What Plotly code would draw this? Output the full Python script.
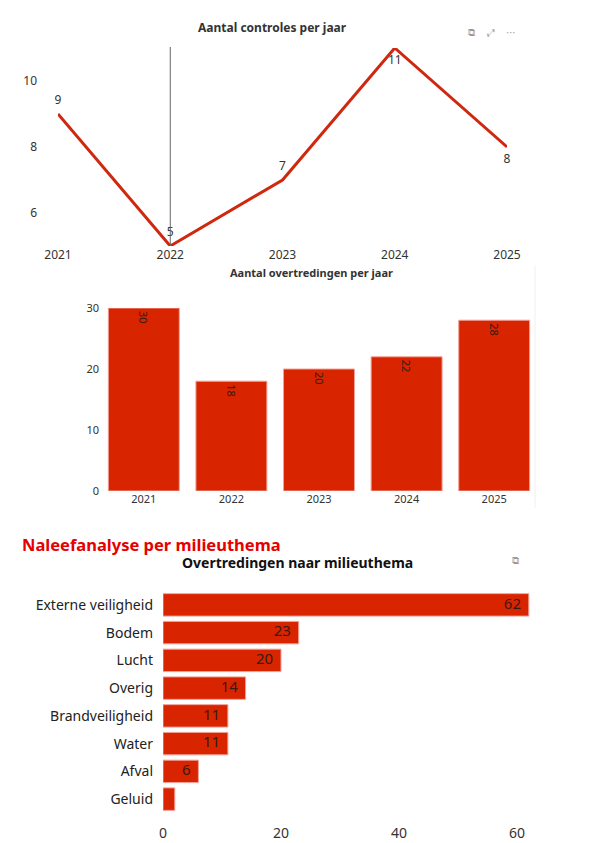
import plotly.graph_objects as go

# data
jaren = ["2021", "2022", "2023", "2024", "2025"]
controles = [9, 5, 7, 11, 8]
overtredingen = [30, 18, 20, 22, 28]

themas = ["Externe veiligheid", "Bodem", "Lucht", "Overig",
          "Brandveiligheid", "Water", "Afval", "Geluid"]
thema_aantal = [62, 23, 20, 14, 11, 11, 6, 2]

W, H = 596, 843
OFF = 8  # body-marge van de pagina
FW, FH = W - OFF, H - OFF
ROOD = "#d92400"
LIJN = "#d0280f"
FONT = "Segoe UI, Noto Sans, DejaVu Sans, sans-serif"


def px_x(a, b):
    return [(a - OFF) / FW, (b - OFF) / FW]


def px_y(top, bottom):
    return [1 - (bottom - OFF) / FH, 1 - (top - OFF) / FH]


def pt(x, y):
    return (x - OFF) / FW, 1 - (y - OFF) / FH


fig = go.Figure()

# --- lijn: aantal controles per jaar
fig.add_trace(go.Scatter(
    x=jaren, y=controles, mode="lines+markers+text",
    line=dict(color=LIJN, width=3),
    marker=dict(size=9, color="rgba(0,0,0,0)"),
    text=[str(v) for v in controles],
    textposition=["top center", "top center", "top center",
                  "bottom center", "bottom center"],
    textfont=dict(size=12, color="#333"),
    cliponaxis=False, showlegend=False,
    xaxis="x", yaxis="y"))

# --- staaf: aantal overtredingen per jaar
fig.add_trace(go.Bar(
    x=jaren, y=overtredingen,
    marker=dict(color=ROOD, line=dict(color="#f2a29a", width=1)),
    text=[str(v) for v in overtredingen],
    textposition="inside", insidetextanchor="end", textangle=90,
    insidetextfont=dict(size=11, color="#3a1a14"),
    showlegend=False, xaxis="x2", yaxis="y2"))

# --- horizontale staaf: per milieuthema
fig.add_trace(go.Bar(
    x=thema_aantal, y=themas, orientation="h",
    marker=dict(color=ROOD, line=dict(color="#f2a29a", width=1)),
    showlegend=False, xaxis="x3", yaxis="y3"))

# labels aan het eind van de balken (volle grootte)
fig.add_trace(go.Scatter(
    x=thema_aantal, y=themas, mode="text",
    text=[str(v) + "\u00a0\u00a0" if v >= 5 else "" for v in thema_aantal],
    textposition="middle left",
    textfont=dict(size=15, color="#3a1a14"),
    cliponaxis=False, showlegend=False, hoverinfo="skip",
    xaxis="x3", yaxis="y3"))

as_stijl = dict(showgrid=False, zeroline=False, showline=False, automargin=False)

fig.update_layout(
    width=FW, height=FH,
    margin=dict(l=0, r=0, t=0, b=0),
    paper_bgcolor="white", plot_bgcolor="white",
    font=dict(family=FONT, color="#333"),
    bargap=0.19,
    xaxis=dict(domain=px_x(58, 507), anchor="y", type="category", range=[0, 4],
               tickfont=dict(size=12, color="#333"), **as_stijl),
    yaxis=dict(domain=px_y(48, 246), anchor="x", range=[5, 11], tickvals=[6, 8, 10],
               ticklabelstandoff=20, tickfont=dict(size=12, color="#333"), **as_stijl),
    xaxis2=dict(domain=px_x(100, 538), anchor="y2", type="category",
                tickfont=dict(size=11, color="#333"), **as_stijl),
    yaxis2=dict(domain=px_y(308, 491), anchor="x2", range=[0, 30],
                tickvals=[0, 10, 20, 30],
                tickfont=dict(size=11, color="#333"), **as_stijl),
    xaxis3=dict(domain=px_x(163, 530), anchor="y3", range=[0, 62.2],
                tickvals=[0, 20, 40, 60], ticklabelstandoff=10,
                tickfont=dict(size=14, color="#333"), **as_stijl),
    yaxis3=dict(domain=px_y(591, 813), anchor="x3", autorange="reversed",
                ticklabelstandoff=9, tickfont=dict(size=14, color="#222"), **as_stijl),
)

# hover-lijn bij 2022
i22 = jaren.index("2022")
fig.add_shape(type="line", xref="x", yref="y domain", x0=i22, x1=i22,
              y0=0, y1=1.005, line=dict(color="#666", width=1))

# dunne rand rechts van de staafgrafiek
bx, by0 = pt(535, 508)
_, by1 = pt(535, 265)
fig.add_shape(type="line", xref="paper", yref="paper",
              x0=bx, x1=bx, y0=by0, y1=by1,
              line=dict(color="#f0f0f0", width=1))

titels = [
    ("Aantal controles per jaar", 272, 27, 12, "#333"),
    ("Aantal overtredingen per jaar", 311, 272, 11, "#333"),
    ("Overtredingen naar milieuthema", 297, 562, 14, "#111"),
]
for tekst, x, y, size, kleur in titels:
    ax, ay = pt(x, y)
    fig.add_annotation(text="<b>%s</b>" % tekst, xref="paper", yref="paper",
                       x=ax, y=ay, showarrow=False,
                       xanchor="center", yanchor="middle",
                       font=dict(size=size, color=kleur, family=FONT))

hx, hy = pt(20, 544)
fig.add_annotation(text="<b>Naleefanalyse per milieuthema</b>",
                   xref="paper", yref="paper", x=hx, y=hy,
                   showarrow=False, xanchor="left", yanchor="middle",
                   font=dict(size=16.5, color="#e60000", family=FONT))

# kop-iconen (benadering)
for sym, x, y in [("⧉", 477, 25), ("⤢", 497, 25), ("⋯", 518, 25), ("⧉", 521, 560)]:
    ix, iy = pt(x, y)
    fig.add_annotation(text=sym, xref="paper", yref="paper",
                       x=ix, y=iy, showarrow=False,
                       font=dict(size=10, color="#999", family="DejaVu Sans"))

fig.write_html("out.html", config={"displayModeBar": False})
